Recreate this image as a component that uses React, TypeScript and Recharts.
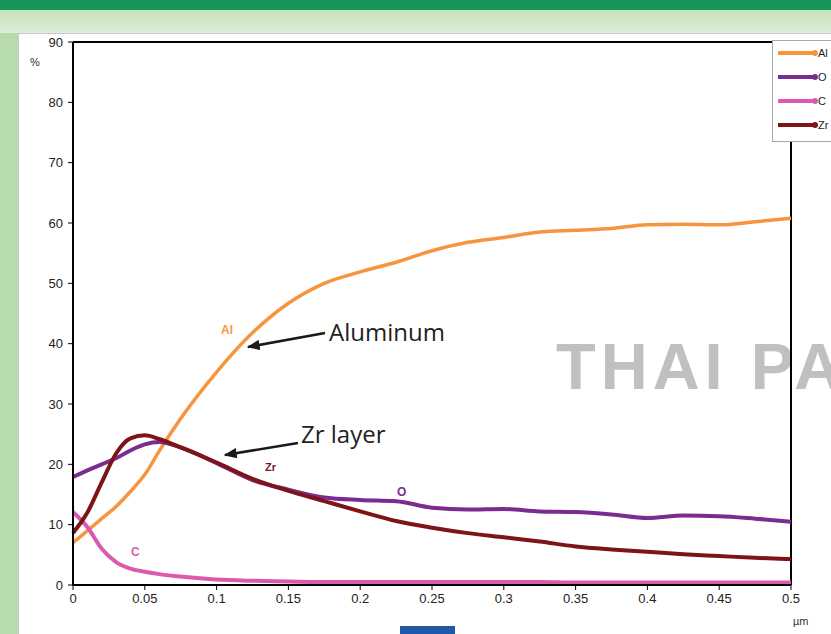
import React from "react";
import { LineChart, Line, XAxis, YAxis, ReferenceLine } from "recharts";

// depth in µm, concentrations in %
const depth = [
  0, 0.01, 0.02, 0.03, 0.04, 0.05, 0.06, 0.075, 0.1, 0.125, 0.15, 0.175, 0.2,
  0.225, 0.25, 0.275, 0.3, 0.325, 0.35, 0.375, 0.4, 0.425, 0.45, 0.475, 0.5,
];
const al = [
  7.0, 9.0, 11.0, 13.0, 15.5, 18.3, 22.2, 27.6, 35.3, 41.8, 46.7, 50.0, 51.9,
  53.5, 55.4, 56.8, 57.6, 58.5, 58.8, 59.1, 59.7, 59.8, 59.7, 60.2, 60.8,
];
const oxygen = [
  17.9, 19.0, 20.0, 21.0, 22.3, 23.3, 23.7, 22.8, 20.2, 17.4, 15.8, 14.5, 14.1,
  13.9, 12.8, 12.5, 12.6, 12.2, 12.1, 11.7, 11.1, 11.5, 11.4, 11.0, 10.5,
];
const carbon = [
  12.1, 9.6, 6.0, 3.8, 2.7, 2.2, 1.8, 1.4, 0.9, 0.7, 0.6, 0.5, 0.5,
  0.5, 0.5, 0.5, 0.5, 0.5, 0.4, 0.4, 0.4, 0.4, 0.4, 0.4, 0.4,
];
const zr = [
  8.6, 12.0, 17.0, 21.8, 24.3, 24.8, 24.2, 22.8, 20.3, 17.6, 15.6, 13.9, 12.2,
  10.6, 9.5, 8.6, 7.9, 7.2, 6.4, 5.9, 5.5, 5.1, 4.8, 4.5, 4.3,
];
const xTicks = [0, 0.05, 0.1, 0.15, 0.2, 0.25, 0.3, 0.35, 0.4, 0.45, 0.5];
const yTicks = [0, 10, 20, 30, 40, 50, 60, 70, 80, 90];

const series = [
  { key: "Al", color: "#f7953f", width: 3.5 },
  { key: "O", color: "#7a2c91", width: 4 },
  { key: "C", color: "#dc5aae", width: 4 },
  { key: "Zr", color: "#7e1417", width: 4 },
];

const data = depth.map((d, i) => ({
  depth: d,
  Al: al[i],
  O: oxygen[i],
  C: carbon[i],
  Zr: zr[i],
}));

const tickFont = { fontSize: 13, fill: "#222", fontFamily: "'Liberation Sans', Arial, sans-serif" };

export default function App() {
  return (
    <div style={{ position: "fixed", left: 0, top: 0, width: 831, height: 634, overflow: "hidden", background: "#cfe8c9" }}>
      {/* page decoration */}
      <div style={{ position: "absolute", left: 0, top: 0, width: 831, height: 10, background: "#17935c" }} />
      <div style={{ position: "absolute", left: 0, top: 10, width: 831, height: 23, background: "linear-gradient(#c4e3bb, #dcefd8)" }} />
      <div style={{ position: "absolute", left: 0, top: 33, width: 18, height: 601, background: "#b7dbab" }} />
      <div style={{ position: "absolute", left: 18, top: 33, width: 813, height: 601, background: "#fff", borderLeft: "1px solid #c8c8c8", borderTop: "1px solid #c8c8c8" }} />
      <div style={{ position: "absolute", left: 400, top: 626, width: 55, height: 8, background: "#2358a6" }} />

      {/* watermark */}
      <div style={{ position: "absolute", zIndex: 1, left: 556, top: 327, fontFamily: "'Liberation Sans', Arial, sans-serif", fontWeight: 700, fontSize: 65, letterSpacing: 5, color: "#c0c0c0", whiteSpace: "nowrap", lineHeight: "80px" }}>
        THAI PA
      </div>

      <div style={{ position: "absolute", zIndex: 2, left: 0, top: 0 }}>
        <LineChart width={831} height={634} data={data} margin={{ top: 42, right: 40, bottom: 19, left: 13 }}>
          <XAxis
            dataKey="depth"
            type="number"
            domain={[0, 0.5]}
            ticks={xTicks}
            height={30}
            axisLine={{ stroke: "#000", strokeWidth: 2 }}
            tickLine={{ stroke: "#000" }}
            tickSize={5}
            tickMargin={4}
            tick={tickFont}
          />
          <YAxis
            type="number"
            domain={[0, 90]}
            ticks={yTicks}
            width={60}
            axisLine={{ stroke: "#000", strokeWidth: 2 }}
            tickLine={{ stroke: "#000" }}
            tickSize={5}
            tickMargin={5}
            tick={tickFont}
          />
          <ReferenceLine y={90} stroke="#000" strokeWidth={2} />
          <ReferenceLine x={0.5} stroke="#000" strokeWidth={2} />
          {series.map((s) => (
            <Line
              key={s.key}
              dataKey={s.key}
              type="monotone"
              stroke={s.color}
              strokeWidth={s.width}
              dot={false}
              isAnimationActive={false}
            />
          ))}
        </LineChart>
      </div>

      {/* annotations */}
      <svg width={831} height={634} style={{ position: "absolute", zIndex: 3, left: 0, top: 0, pointerEvents: "none" }}>
        <defs>
          <marker id="ah" markerWidth="5" markerHeight="4" refX="4.5" refY="2" orient="auto" markerUnits="strokeWidth">
            <path d="M0,0 L5,2 L0,4 Z" fill="#1a1a1a" />
          </marker>
        </defs>
        <g fontFamily="'Liberation Sans', Arial, sans-serif" fontSize={11}>
          <text x={30} y={66} fill="#333">%</text>
          <text x={793} y={625} fill="#333">µm</text>
        </g>
        <g fontFamily="'Liberation Sans', Arial, sans-serif" fontWeight={700} fontSize={12}>
          <text x={221} y={334} fill="#f7953f">Al</text>
          <text x={265} y={471} fill="#7e1417" fontSize={11}>Zr</text>
          <text x={397} y={496} fill="#7a2c91">O</text>
          <text x={131} y={556} fill="#dc5aae">C</text>
        </g>
        <line x1={325} y1={333} x2={248} y2={347} stroke="#1a1a1a" strokeWidth={2.6} markerEnd="url(#ah)" />
        <line x1={298} y1={443} x2={225} y2={455} stroke="#1a1a1a" strokeWidth={2.6} markerEnd="url(#ah)" />
        <g fontFamily="'Open Sans', 'Noto Sans', sans-serif" fontSize={24} fill="#222">
          <text x={329} y={341}>Aluminum</text>
          <text x={301} y={443}>Zr layer</text>
        </g>
      </svg>

      {/* legend */}
      <div style={{ position: "absolute", zIndex: 4, left: 772, top: 40, width: 70, height: 102, background: "#fff", border: "1px solid #a8a8a8", boxSizing: "border-box" }}>
        {series.map((s, i) => (
          <div key={s.key} style={{ position: "absolute", left: 4, top: 6 + i * 24, height: 12, display: "flex", alignItems: "center" }}>
            <svg width={42} height={12}>
              <line x1={1} y1={6} x2={38} y2={6} stroke={s.color} strokeWidth={4} />
              <circle cx={38} cy={6} r={3} fill={s.color} />
            </svg>
            <span style={{ fontFamily: "'Liberation Sans', Arial, sans-serif", fontSize: 11, color: "#222", marginLeft: -1 }}>{s.key}</span>
          </div>
        ))}
      </div>
    </div>
  );
}
